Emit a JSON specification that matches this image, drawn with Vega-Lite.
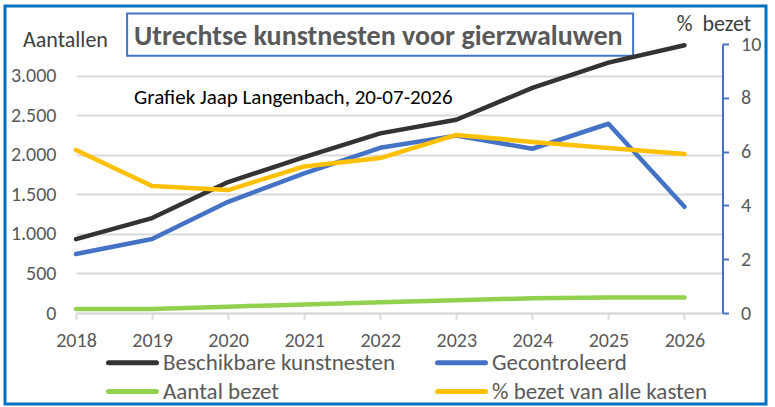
{
  "$schema": "https://vega.github.io/schema/vega-lite/v6.json",
  "width": 761,
  "height": 398,
  "autosize": "none",
  "padding": {"left": 5, "top": 6, "right": 9, "bottom": 3},
  "background": "white",
  "title": {
    "text": "Utrechtse kunstnesten voor gierzwaluwen",
    "subtitle": "Grafiek Jaap Langenbach, 20-07-2026",
    "orient": "top",
    "anchor": "start",
    "frame": "group",
    "offset": -102,
    "dx": 129,
    "font": "Carlito, Liberation Sans",
    "fontSize": 28,
    "fontWeight": "bold",
    "color": "#595959",
    "subtitleFont": "Carlito, Liberation Sans",
    "subtitleFontSize": 21,
    "subtitleColor": "#000000",
    "subtitlePadding": 36
  },
  "data": {
    "values": [
      {"jaar": 2018, "reeks": "Beschikbare kunstnesten", "waarde": 933},
      {"jaar": 2019, "reeks": "Beschikbare kunstnesten", "waarde": 1200},
      {"jaar": 2020, "reeks": "Beschikbare kunstnesten", "waarde": 1655},
      {"jaar": 2021, "reeks": "Beschikbare kunstnesten", "waarde": 1970},
      {"jaar": 2022, "reeks": "Beschikbare kunstnesten", "waarde": 2270},
      {"jaar": 2023, "reeks": "Beschikbare kunstnesten", "waarde": 2443},
      {"jaar": 2024, "reeks": "Beschikbare kunstnesten", "waarde": 2845},
      {"jaar": 2025, "reeks": "Beschikbare kunstnesten", "waarde": 3165},
      {"jaar": 2026, "reeks": "Beschikbare kunstnesten", "waarde": 3385},
      {"jaar": 2018, "reeks": "Gecontroleerd", "waarde": 745},
      {"jaar": 2019, "reeks": "Gecontroleerd", "waarde": 935},
      {"jaar": 2020, "reeks": "Gecontroleerd", "waarde": 1405},
      {"jaar": 2021, "reeks": "Gecontroleerd", "waarde": 1765},
      {"jaar": 2022, "reeks": "Gecontroleerd", "waarde": 2088},
      {"jaar": 2023, "reeks": "Gecontroleerd", "waarde": 2242},
      {"jaar": 2024, "reeks": "Gecontroleerd", "waarde": 2076},
      {"jaar": 2025, "reeks": "Gecontroleerd", "waarde": 2392},
      {"jaar": 2026, "reeks": "Gecontroleerd", "waarde": 1342},
      {"jaar": 2018, "reeks": "Aantal bezet", "waarde": 51},
      {"jaar": 2019, "reeks": "Aantal bezet", "waarde": 52},
      {"jaar": 2020, "reeks": "Aantal bezet", "waarde": 80},
      {"jaar": 2021, "reeks": "Aantal bezet", "waarde": 108},
      {"jaar": 2022, "reeks": "Aantal bezet", "waarde": 135},
      {"jaar": 2023, "reeks": "Aantal bezet", "waarde": 162},
      {"jaar": 2024, "reeks": "Aantal bezet", "waarde": 186},
      {"jaar": 2025, "reeks": "Aantal bezet", "waarde": 196},
      {"jaar": 2026, "reeks": "Aantal bezet", "waarde": 196},
      {"jaar": 2018, "reeks": "% bezet van alle kasten", "waarde": 6.06},
      {"jaar": 2019, "reeks": "% bezet van alle kasten", "waarde": 4.72},
      {"jaar": 2020, "reeks": "% bezet van alle kasten", "waarde": 4.57},
      {"jaar": 2021, "reeks": "% bezet van alle kasten", "waarde": 5.45},
      {"jaar": 2022, "reeks": "% bezet van alle kasten", "waarde": 5.76},
      {"jaar": 2023, "reeks": "% bezet van alle kasten", "waarde": 6.62},
      {"jaar": 2024, "reeks": "% bezet van alle kasten", "waarde": 6.36},
      {"jaar": 2025, "reeks": "% bezet van alle kasten", "waarde": 6.13},
      {"jaar": 2026, "reeks": "% bezet van alle kasten", "waarde": 5.91}
    ]
  },
  "layer": [
    {
      "layer": [
        {
          "data": {"values": [{}]},
          "mark": {"type": "rect", "fill": null, "stroke": "#4472C4", "strokeWidth": 2},
          "encoding": {
            "x": {"datum": 2018.672, "type": "quantitative", "scale": {"domain": [2018, 2026.5], "range": [71, 717.5], "zero": false, "nice": false}},
            "x2": {"datum": 2025.325},
            "y": {"datum": 3785, "type": "quantitative", "scale": {"domain": [0, 3400], "range": [307, 38], "zero": false, "nice": false}},
            "y2": {"datum": 3253}
          }
        },
        {
          "transform": [{"filter": "datum.reeks != '% bezet van alle kasten'"}],
          "mark": {"type": "line", "strokeWidth": 4.5, "strokeCap": "round", "strokeJoin": "round"},
          "encoding": {
            "x": {
              "field": "jaar",
              "type": "quantitative",
              "scale": {"domain": [2018, 2026.5], "range": [71, 717.5], "zero": false, "nice": false},
              "axis": {
                "orient": "bottom",
                "offset": -91,
                "values": [2018, 2019, 2020, 2021, 2022, 2023, 2024, 2025, 2026],
                "format": "d",
                "grid": false,
                "labelFlush": false,
                "labelOverlap": false,
                "domainColor": "#d9d9d9",
                "domainWidth": 2,
                "tickColor": "#d9d9d9",
                "tickWidth": 2,
                "tickSize": 6,
                "labelPadding": 11,
                "labelFontSize": 20,
                "labelColor": "#595959",
                "title": null
              }
            },
            "y": {
              "field": "waarde",
              "type": "quantitative",
              "scale": {"domain": [0, 3400], "range": [307, 38], "zero": false, "nice": false},
              "axis": {
                "orient": "left",
                "offset": -71,
                "values": [0, 500, 1000, 1500, 2000, 2500, 3000],
                "format": ",d",
                "grid": true,
                "gridColor": "#d9d9d9",
                "gridWidth": 2,
                "domain": false,
                "ticks": false,
                "labelPadding": 20,
                "labelFontSize": 20,
                "labelColor": "#595959",
                "title": "Aantallen",
                "titleAngle": 0,
                "titleX": -11,
                "titleY": 40,
                "titleAlign": "center",
                "titleBaseline": "alphabetic",
                "titleFontSize": 22,
                "titleFontWeight": "normal",
                "titleColor": "#404040"
              }
            },
            "color": {
              "field": "reeks",
              "type": "nominal",
              "sort": null,
              "scale": {
                "domain": ["Beschikbare kunstnesten", "Gecontroleerd", "Aantal bezet", "% bezet van alle kasten"],
                "range": ["#333333", "#4472C4", "#92D050", "#FFC000"]
              },
              "legend": {
                "orient": "none",
                "legendX": 101,
                "legendY": 342,
                "direction": "horizontal",
                "columns": 2,
                "title": null,
                "symbolType": "M-1,0H3",
                "symbolStrokeWidth": 5,
                "symbolSize": 576,
                "labelFontSize": 23,
                "labelColor": "#595959",
                "labelOffset": 28,
                "labelLimit": 400,
                "columnPadding": 32,
                "rowPadding": 2,
                "padding": 0,
                "encode": {"symbols": {"update": {"strokeCap": {"value": "round"}}}}
              }
            }
          }
        }
      ]
    },
    {
      "transform": [{"filter": "datum.reeks == '% bezet van alle kasten'"}],
      "mark": {"type": "line", "strokeWidth": 4.5, "strokeCap": "round", "strokeJoin": "round"},
      "encoding": {
        "x": {"field": "jaar", "type": "quantitative", "scale": {"domain": [2018, 2026.5], "range": [71, 717.5], "zero": false, "nice": false}},
        "y": {
          "field": "waarde",
          "type": "quantitative",
          "scale": {"domain": [0, 10], "range": [307, 38], "zero": false, "nice": false},
          "axis": {
            "orient": "right",
            "offset": -43.5,
            "values": [0, 2, 4, 6, 8, 10],
            "grid": false,
            "domainColor": "#4472C4",
            "domainWidth": 2,
            "tickColor": "#4472C4",
            "tickWidth": 2,
            "tickSize": 6,
            "labelPadding": 12,
            "labelFontSize": 20,
            "labelColor": "#595959",
            "title": "%\u00a0\u00a0bezet",
            "titleAngle": 0,
            "titleX": -9,
            "titleY": 24,
            "titleAlign": "center",
            "titleBaseline": "alphabetic",
            "titleFontSize": 22,
            "titleFontWeight": "normal",
            "titleColor": "#404040"
          }
        },
        "color": {"field": "reeks", "type": "nominal"}
      }
    }
  ],
  "resolve": {"scale": {"y": "independent"}},
  "config": {
    "view": {"stroke": "#0070C0", "strokeWidth": 3},
    "font": "Carlito, Liberation Sans",
    "locale": {
      "number": {"decimal": ",", "thousands": ".", "grouping": [3], "currency": ["€", ""]}
    }
  }
}
